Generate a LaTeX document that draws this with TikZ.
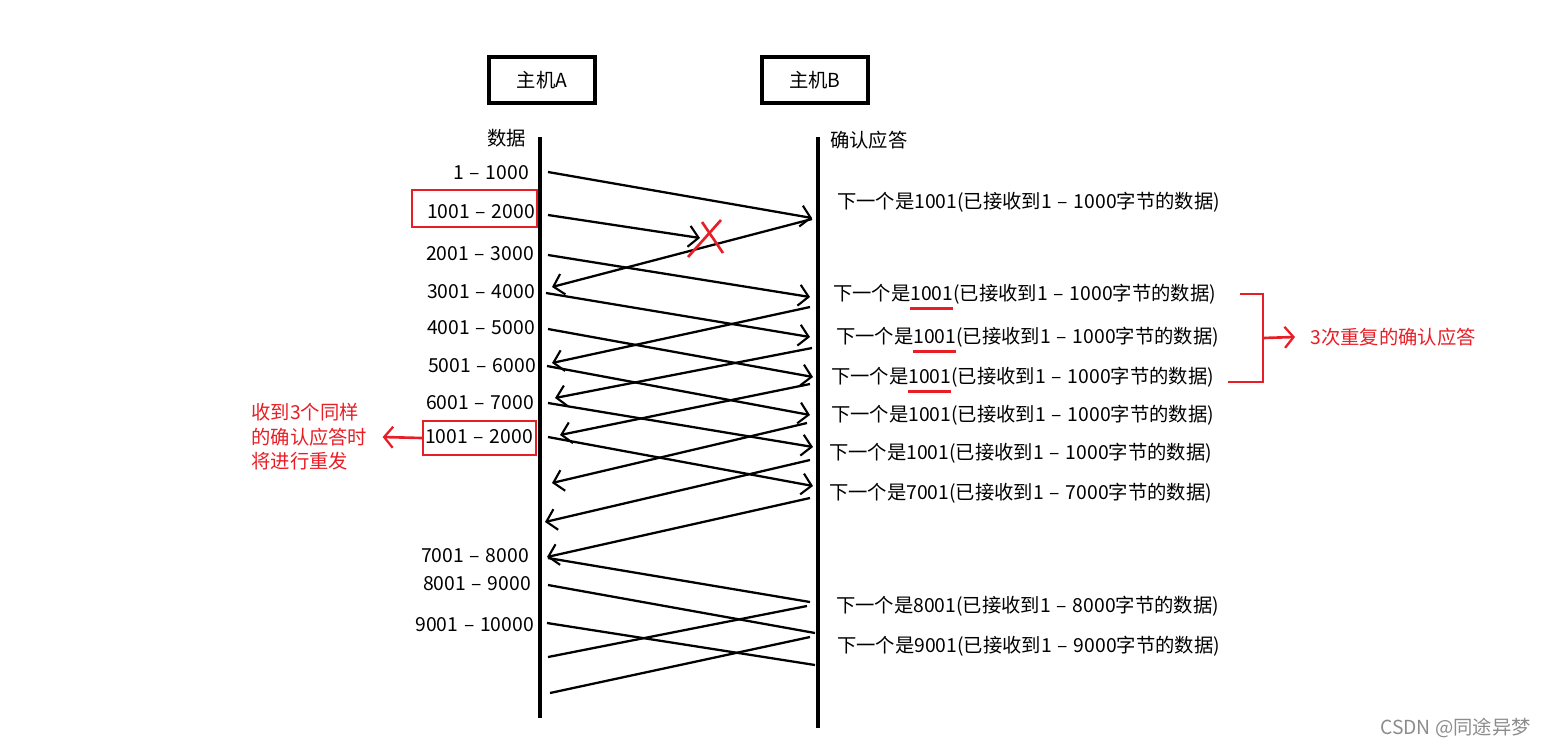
\documentclass[tikz,border=0pt]{standalone}
\usepackage{fontspec}
\setmainfont{Noto Sans CJK SC}
\usetikzlibrary{arrows.meta}
\definecolor{mkred}{RGB}{232,30,38}
\newcommand{\ulred}[1]{\setbox0\hbox{#1}\rlap{\color{mkred}\rule[-5pt]{\wd0}{1.6pt}}\box0}
\newcommand{\rng}{\hspace{0.3em}–\hspace{0.3em}}
\begin{document}
\begin{tikzpicture}[x=0.02cm, y=-0.02cm,
    host/.style={rectangle, draw, line width=2.2pt, minimum width=2.12cm, minimum height=0.92cm, font=\fontsize{11}{13}\selectfont},
    seg/.style={font=\fontsize{11}{13}\selectfont, inner sep=1pt, anchor=east},
    ack/.style={font=\fontsize{11}{13}\selectfont, inner sep=1pt, anchor=west},
    life/.style={line width=2.8pt},
    msg/.style={line width=1.3pt},
    tip/.style={msg, -{Straight Barb[length=5.5pt,width=12pt,line width=1.2pt]}},
    redbox/.style={rectangle, draw=mkred, line width=1.4pt, inner sep=0pt},
    redline/.style={draw=mkred, line width=1.5pt},
    redtip/.style={redline, -{Straight Barb[length=5pt,width=12pt,line width=1.3pt]}},
    note/.style={font=\fontsize{11}{14}\selectfont, text=mkred, align=left, inner sep=0pt}
  ]
  \useasboundingbox (0,0) rectangle (1551,748);
  \node[host] (ha) at (542,80) {主机A};
  \node[host] (hb) at (815,80) {主机B};
  \coordinate (a0) at (540,137);
  \coordinate (a9) at (540,718);
  \coordinate (b0) at (818,137);
  \coordinate (b9) at (818,728);
  \draw[life] (a0) -- (a9);
  \draw[life] (b0) -- (b9);
  \node[seg] (tdata) at (528,138) {数据};
  \node[ack] (tack) at (828,140) {确认应答};

  \node[seg] (s1) at (531,173) {1\rng 1000};
  \node[seg] (s2) at (537,212) {1001\rng 2000};
  \node[seg] (s3) at (536,254) {2001\rng 3000};
  \node[seg] (s4) at (537,292) {3001\rng 4000};
  \node[seg] (s5) at (537,328) {4001\rng 5000};
  \node[seg] (s6) at (538,366) {5001\rng 6000};
  \node[seg] (s7) at (536,403) {6001\rng 7000};
  \node[seg] (s8) at (535,437) {1001\rng 2000};
  \node[seg] (s9) at (531,556) {7001\rng 8000};
  \node[seg] (s10) at (533,584) {8001\rng 9000};
  \node[seg] (s11) at (536,625) {9001\rng 10000};
  \node[redbox, minimum width=2.5cm, minimum height=0.74cm] (rb1) at (474.5,208.5) {};
  \node[redbox, minimum width=2.26cm, minimum height=0.68cm] (rb2) at (479.5,438) {};

  \node[ack] (k1) at (835,202) {下一个是1001(已接收到1\rng 1000字节的数据)};
  \node[ack] (k2) at (831,297) {下一个是\ulred{1001}(已接收到1\rng 1000字节的数据)};
  \node[ack] (k3) at (834,340) {下一个是\ulred{1001}(已接收到1\rng 1000字节的数据)};
  \node[ack] (k4) at (829,380) {下一个是\ulred{1001}(已接收到1\rng 1000字节的数据)};
  \node[ack] (k5) at (829,415) {下一个是1001(已接收到1\rng 1000字节的数据)};
  \node[ack] (k6) at (827,453) {下一个是1001(已接收到1\rng 1000字节的数据)};
  \node[ack] (k7) at (827,493) {下一个是7001(已接收到1\rng 7000字节的数据)};
  \node[ack] (k8) at (834,606) {下一个是8001(已接收到1\rng 8000字节的数据)};
  \node[ack] (k9) at (835,646) {下一个是9001(已接收到1\rng 9000字节的数据)};

  \coordinate (dA1) at (548,172);  \coordinate (dB1) at (812,218);
  \coordinate (dA2) at (548,215);  \coordinate (lost) at (700,238);
  \coordinate (dA3) at (548,255);  \coordinate (dB3) at (810,297);
  \coordinate (dA4) at (546,293);  \coordinate (dB4) at (810,337);
  \coordinate (dA5) at (548,329);  \coordinate (dB5) at (813,377);
  \coordinate (dA6) at (547,366);  \coordinate (dB6) at (810,415);
  \coordinate (dA7) at (548,403);  \coordinate (dB7) at (813,447);
  \coordinate (dA8) at (548,437);  \coordinate (dB8) at (813,486);
  \coordinate (dA9) at (548,558);  \coordinate (dB9) at (810,602);
  \coordinate (dA10) at (548,585); \coordinate (dB10) at (815,633);
  \coordinate (dA11) at (547,623); \coordinate (dB11) at (815,665);
  \draw[tip] (dA1) -- (dB1);
  \draw[tip] (dA2) -- (lost);
  \draw[tip] (dA3) -- (dB3);
  \draw[tip] (dA4) -- (dB4);
  \draw[tip] (dA5) -- (dB5);
  \draw[tip] (dA6) -- (dB6);
  \draw[tip] (dA7) -- (dB7);
  \draw[tip] (dA8) -- (dB8);
  \draw[msg] (dA9) -- (dB9);
  \draw[msg] (dA10) -- (dB10);
  \draw[msg] (dA11) -- (dB11);

  \coordinate (kB1) at (812,219); \coordinate (kA1) at (552,287);
  \coordinate (kB2) at (810,307); \coordinate (kA2) at (552,363);
  \coordinate (kB3) at (812,348); \coordinate (kA3) at (555,398);
  \coordinate (kB4) at (810,384); \coordinate (kA4) at (560,435);
  \coordinate (kB5) at (807,423); \coordinate (kA5) at (552,483);
  \coordinate (kB6) at (810,460); \coordinate (kA6) at (545,522);
  \coordinate (kB7) at (810,498); \coordinate (kA7) at (547,557);
  \coordinate (kB8) at (807,606); \coordinate (kA8) at (548,657);
  \coordinate (kB9) at (810,637); \coordinate (kA9) at (550,693);
  \draw[tip] (kB1) -- (kA1);
  \draw[tip] (kB2) -- (kA2);
  \draw[tip] (kB3) -- (kA3);
  \draw[tip] (kB4) -- (kA4);
  \draw[tip] (kB5) -- (kA5);
  \draw[tip] (kB6) -- (kA6);
  \draw[tip] (kB7) -- (kA7);
  \draw[msg] (kB8) -- (kA8);
  \draw[msg] (kB9) -- (kA9);

  \draw[redline] ([shift={(2,-16)}]lost) -- ([shift={(23,15)}]lost);
  \draw[redline] ([shift={(21,-18)}]lost) -- ([shift={(-12,19)}]lost);

  \coordinate (br1) at (1240,294);
  \coordinate (br2) at (1263,294);
  \coordinate (br3) at (1263,382);
  \coordinate (br4) at (1228,382);
  \coordinate (brm) at (1263,338);
  \node[note, anchor=west] (rep) at (1310,337) {3次重复的确认应答};
  \draw[redline] (br1) -- (br2) -- (br3) -- (br4);
  \draw[redtip] (brm) -- ([xshift=-0.3cm]rep.west);

  \node[note, anchor=west] (resend) at (251,437) {收到3个同样\\的确认应答时\\将进行重发};
  \draw[redtip] (rb2.west) -- ([xshift=0.3cm]resend.east);

  \node[font=\fontsize{11}{13}\selectfont, text=black!45, anchor=east] (wm) at (1537,728) {CSDN @同途异梦};
\end{tikzpicture}
\end{document}
